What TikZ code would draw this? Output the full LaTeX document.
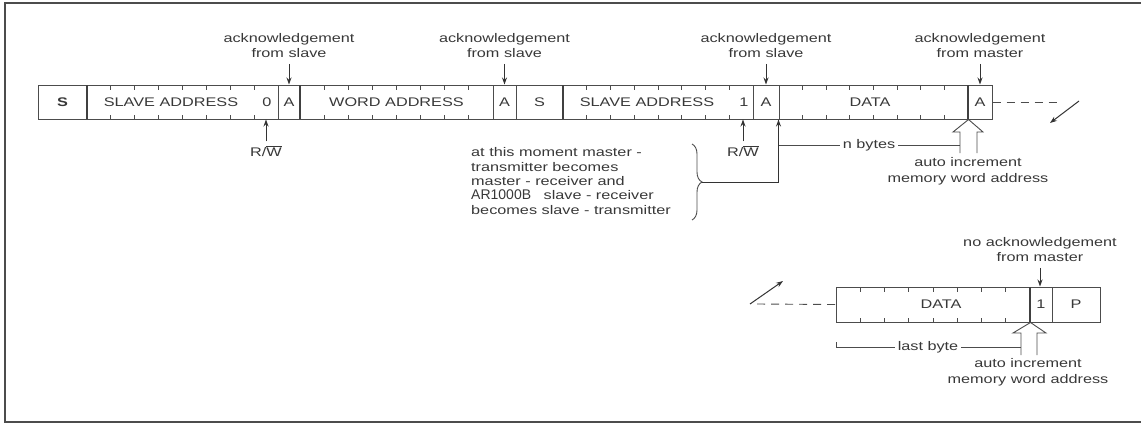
\documentclass[tikz,border=0pt]{standalone}
\usepackage{fontspec}
\setmainfont{Liberation Sans}[FakeStretch=1.3]
\newfontfamily\arfont{Liberation Sans}
\usetikzlibrary{arrows.meta,decorations.pathreplacing}
\newcommand\bitticks[4]{\foreach \i in {1,...,7}{\pgfmathsetmacro\xx{#1+\i*(#2-#1)/8}\draw[tk] (\xx,#3) -- (\xx,#3+4.5); \draw[tk] (\xx,#4) -- (\xx,#4-4.5);}}
\begin{document}
\begin{tikzpicture}[x=1pt,y=-1pt,
  every node/.style={text=black!78, font=\fontsize{12.5}{15}\selectfont},
  cell/.style={draw=black!70, line width=1pt, minimum height=34pt, inner sep=0pt},
  lbl/.style={align=center, inner sep=0pt},
  arr/.style={draw=black!80, line width=1pt, -{Stealth[length=7pt,width=5pt]}},
  ln/.style={draw=black!70, line width=0.9pt},
  tk/.style={draw=black!70, line width=0.9pt},
  thk/.style={draw=black!75, line width=2pt},
  dsh/.style={draw=black!70, line width=0.9pt, dash pattern=on 8pt off 6pt}]
\useasboundingbox (0,0) rectangle (1141,424);
% frame
\draw[draw=black!70, line width=2pt] (1150,3) -- (5,3) -- (5,422) -- (1150,422);

% top row cells
\node[cell, minimum width=49pt]  (s1)  at (62.5,102)  {\textbf{S}};
\node[cell, minimum width=191pt] (sa1) at (182.5,102) {};
\node[cell, minimum width=22pt]  (a1)  at (289,102)   {A};
\node[cell, minimum width=193pt] (wa)  at (396.5,102) {WORD ADDRESS};
\node[cell, minimum width=23pt]  (a2)  at (504.5,102) {A};
\node[cell, minimum width=47pt]  (s2)  at (539.5,102) {S};
\node[cell, minimum width=190pt] (sa2) at (658,102)   {};
\node[cell, minimum width=26pt]  (a3)  at (766,102)   {A};
\node[cell, minimum width=189pt] (d1)  at (873.5,102) {};
\node[cell, minimum width=24pt]  (a4)  at (980,102)   {A};
\node[lbl] (t1) at (171,102) {SLAVE ADDRESS};
\node[lbl] (b0) at (267,102) {0};
\node[lbl] (t2) at (647,102) {SLAVE ADDRESS};
\node[lbl] (b1) at (744,102) {1};
\node[lbl] (t3) at (870,102) {DATA};
\bitticks{87}{278}{85}{119}
\bitticks{300}{493}{85}{119}
\bitticks{563}{753}{85}{119}
\bitticks{779}{968}{85}{119}
\draw[thk] (87,85) -- (87,119);
\draw[thk] (300,85) -- (300,119);
\draw[thk] (563,85) -- (563,119);
\draw[thk] (968,85) -- (968,119);

% acknowledgement labels
\node[lbl] (ack1) at (289,45.5) {acknowledgement\\from slave};
\node[lbl] (ack2) at (504.5,45.5) {acknowledgement\\from slave};
\node[lbl] (ack3) at (766,45.5) {acknowledgement\\from slave};
\node[lbl] (ack4) at (980,45.5) {acknowledgement\\from master};
\draw[arr, shorten <=6pt] (ack1.south) -- (a1.north);
\draw[arr, shorten <=6pt] (ack2.south) -- (a2.north);
\draw[arr, shorten <=6pt] (ack3.south) -- (a3.north);
\draw[arr, shorten <=6pt] (ack4.south) -- (a4.north);

% R/W
\node[lbl] (rw1) at (266,151) {R/$\overline{\mbox{W}}$};
\node[lbl] (rw2) at (743,151) {R/$\overline{\mbox{W}}$};
\draw[arr, shorten <=4pt] (rw1.north) -- (rw1 |- sa1.south);
\draw[arr, shorten <=4pt] (rw2.north) -- (rw2 |- sa2.south);

% continuation right
\draw[dsh] (a4.east) -- (1062,102);
\draw[arr] (1079,101) -- (1050,123);

% note with brace
\node[lbl, align=left, anchor=west, font=\fontsize{12.5}{14.3}\selectfont] (note) at (471,181)
  {at this moment master -\\transmitter becomes\\master - receiver and\\{\arfont\fontsize{14}{14.3}\selectfont AR1000B}\quad slave - receiver\\becomes slave - transmitter};
\draw[ln, decorate, decoration={brace, amplitude=10pt}] (692,144) -- (692,220);
\coordinate (bt) at (702,182);
\draw[arr] (bt) -| (d1.south west);

% n bytes
\coordinate (nb0) at (779,145);
\coordinate (nb1) at (960,145);
\draw[ln] (nb0) -- (nb1);
\node[fill=white, inner sep=3pt] (nbytes) at (869,145) {n bytes};

% hollow arrow top
\draw[ln, line join=miter] (960,153) -- (960,132) -- (953,132) -- (d1.south east) -- (983,132) -- (977,132) -- (977,153);
\node[lbl, font=\fontsize{12.5}{16}\selectfont] (auto1) at (968,171) {auto increment\\memory word address};

% bottom row
\node[cell, minimum width=194pt, minimum height=35pt] (d2) at (933,304.5) {};
\node[cell, minimum width=22pt, minimum height=35pt]  (n1) at (1041,304.5) {1};
\node[cell, minimum width=48pt, minimum height=35pt]  (p)  at (1076,304.5) {P};
\node[lbl] (t4) at (941,304.5) {DATA};
\bitticks{836}{1030}{287}{322}
\draw[thk] (1030,287) -- (1030,322);
\node[lbl] (ack5) at (1040,249.5) {no acknowledgement\\from master};
\draw[arr, shorten <=6pt] (ack5.south) -- (ack5.south |- n1.north);

% continuation left
\draw[dsh] (757,304) -- (d2.west);
\draw[arr] (750,304) -- (783,281);

% last byte
\draw[ln] (836,342) -- (836,347) -- (1021,347);
\node[fill=white, inner sep=3pt] (lastb) at (928,347) {last byte};

% hollow arrow bottom
\draw[ln, line join=miter] (1021,355) -- (1021,333) -- (1013,333) -- (d2.south east) -- (1046,333) -- (1037,333) -- (1037,355);
\node[lbl, font=\fontsize{12.5}{16}\selectfont] (auto2) at (1028,372.5) {auto increment\\memory word address};
\end{tikzpicture}
\end{document}
